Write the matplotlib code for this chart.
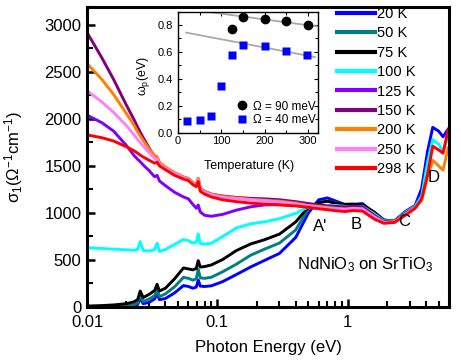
import matplotlib
matplotlib.use('Agg')
import matplotlib.pyplot as plt
from matplotlib.ticker import MultipleLocator, FixedLocator, FixedFormatter, LogLocator, NullFormatter

plt.rcParams['font.family'] = ['Liberation Sans', 'DejaVu Sans']
plt.rcParams['mathtext.fontset'] = 'custom'
plt.rcParams['mathtext.rm'] = 'Liberation Sans'
plt.rcParams['mathtext.it'] = 'Liberation Sans:italic'

# photon energy grid (eV)
energy = [0.01, 0.013, 0.016, 0.02, 0.023, 0.0245, 0.0256, 0.027, 0.03, 0.033,
          0.0345, 0.036, 0.04, 0.047, 0.055, 0.06, 0.065, 0.069, 0.0714, 0.074,
          0.08, 0.09, 0.11, 0.14, 0.18, 0.23, 0.3, 0.4, 0.5, 0.6,
          0.7, 0.8, 0.95, 1.1, 1.3, 1.6, 1.9, 2.3, 2.8, 3.3,
          3.7, 4.1, 4.5, 5.0, 5.4, 5.9]

# sigma_1 (1/(Ohm cm)) per temperature
s_20K = [2, 3, 5, 8, 14, 28, 92, 35, 50, 85,
         145, 78, 90, 150, 228, 218, 200, 212, 287, 222,
         218, 225, 270, 345, 425, 495, 570, 740, 1000, 1140,
         1160, 1130, 1090, 1090, 1100, 1000, 920, 920, 1020, 1080,
         1260, 1650, 1910, 1870, 1810, 1890]
s_50K = [3, 5, 8, 15, 25, 45, 128, 58, 85, 120,
         188, 110, 140, 215, 315, 305, 285, 300, 401, 310,
         305, 316, 375, 455, 550, 615, 680, 820, 1045, 1110,
         1125, 1110, 1085, 1080, 1085, 1005, 922, 915, 1010, 1070]
s_75K = [10, 15, 22, 35, 55, 80, 170, 100, 135, 175,
         241, 170, 200, 300, 415, 405, 395, 410, 493, 425,
         430, 447, 505, 600, 670, 715, 775, 905, 1065, 1110,
         1125, 1105, 1092, 1095, 1085, 1010, 925, 915, 1005, 1065]
s_100K = [631, 622, 615, 608, 604, 615, 695, 600, 596, 610,
          678, 590, 612, 665, 718, 705, 680, 690, 777, 672,
          670, 678, 750, 840, 885, 905, 940, 995, 1065, 1075,
          1080, 1080, 1070, 1065, 1070, 990, 915, 915, 1010, 1070,
          1180, 1530, 1780, 1730, 1655, 1810]
s_125K = [2040, 1960, 1870, 1720, 1610, 1570, 1545, 1510, 1450, 1385,
          1400, 1340, 1290, 1220, 1170, 1150, 1090, 1050, 1085, 1010,
          975, 965, 985, 1030, 1065, 1085, 1090, 1080, 1060, 1050,
          1045, 1045, 1045, 1060, 1060, 970, 905, 910, 1000, 1060]
s_150K = [2920, 2650, 2420, 2150, 1990, 1910, 1860, 1800, 1690, 1600,
          1575, 1530, 1480, 1420, 1380, 1365, 1320, 1300, 1360, 1260,
          1230, 1200, 1180, 1165, 1155, 1150, 1140, 1120, 1100, 1085,
          1075, 1070, 1065, 1070, 1065, 975, 905, 910, 1000, 1060]
s_200K = [2590, 2420, 2260, 2060, 1930, 1860, 1820, 1770, 1680, 1610,
          1600, 1540, 1490, 1430, 1385, 1365, 1320, 1300, 1370, 1260,
          1230, 1200, 1175, 1160, 1145, 1135, 1125, 1105, 1080, 1070,
          1060, 1050, 1040, 1040, 1030, 950, 895, 905, 990, 1060,
          1130, 1380, 1560, 1500, 1455, 1690]
s_250K = [2300, 2180, 2070, 1930, 1830, 1780, 1750, 1710, 1640, 1580,
          1570, 1520, 1475, 1420, 1375, 1355, 1310, 1290, 1350, 1250,
          1220, 1190, 1165, 1150, 1140, 1130, 1115, 1095, 1075, 1060,
          1050, 1045, 1040, 1050, 1045, 960, 900, 905, 990, 1055]
s_298K = [1830, 1800, 1765, 1705, 1660, 1635, 1615, 1595, 1560, 1530,
          1540, 1500, 1460, 1400, 1360, 1345, 1300, 1280, 1335, 1230,
          1200, 1170, 1140, 1120, 1105, 1095, 1085, 1075, 1060, 1045,
          1035, 1025, 1015, 1025, 1020, 935, 890, 900, 980, 1050,
          1150, 1400, 1710, 1670, 1635, 1880]

temp_labels = ['20 K', '50 K', '75 K', '100 K', '125 K', '150 K', '200 K', '250 K', '298 K']
curves = [s_20K, s_50K, s_75K, s_100K, s_125K, s_150K, s_200K, s_250K, s_298K]
colors = ['#0000ff', '#008080', '#000000', '#00ffff', '#8000ff', '#800080',
          '#ff8000', '#ff80ff', '#ff0000']

xtick_vals = [0.01, 0.1, 1]
xtick_labels = ['0.01', '0.1', '1']

# inset: plasma frequency vs temperature
T_90 = [125, 150, 200, 250, 300]
wp_90 = [0.765, 0.856, 0.844, 0.824, 0.795]
T_40 = [20, 50, 75, 100, 125, 150, 200, 250, 298]
wp_40 = [0.086, 0.098, 0.123, 0.345, 0.578, 0.652, 0.642, 0.605, 0.573]
fit_T_90 = [80, 320]
fit_90 = [0.889, 0.787]
fit_T_40 = [19, 316]
fit_40 = [0.741, 0.560]

fig = plt.figure(figsize=(4.61, 3.63), dpi=100)
ax = fig.add_axes([87/461, 56/363, 362/461, 300/363])

for lab, vals, col in zip(temp_labels, curves, colors):
    ax.plot(energy[:len(vals)], vals, color=col, lw=2.1, label=lab,
            solid_joinstyle='round')

ax.set_xscale('log')
ax.set_xlim(0.01, 6)
ax.set_ylim(0, 3190)
ax.xaxis.set_major_locator(FixedLocator(xtick_vals))
ax.xaxis.set_major_formatter(FixedFormatter(xtick_labels))
ax.xaxis.set_minor_locator(LogLocator(base=10, subs=range(2, 10)))
ax.xaxis.set_minor_formatter(NullFormatter())
ax.yaxis.set_major_locator(MultipleLocator(500))
ax.yaxis.set_minor_locator(MultipleLocator(250))
ax.tick_params(which='both', direction='in', top=False, right=False, labelsize=12)
ax.tick_params(which='major', length=6, width=1.8, pad=4)
ax.tick_params(which='minor', length=4, width=1.5)
ax.tick_params(axis='x', which='major', pad=6)
for sp in ax.spines.values():
    sp.set_linewidth(2.2)

ax.set_xlabel('Photon Energy (eV)', fontsize=12)
ax.set_ylabel('σ$_1$(Ω$^{-1}$cm$^{-1}$)', fontsize=12)
ax.xaxis.set_label_coords(0.5, -0.11)
ax.yaxis.set_label_coords(-0.171, 0.5)

ax.text(0.62, 860, "A'", fontsize=12, ha='center', va='center')
ax.text(1.17, 872, 'B', fontsize=12, ha='center', va='center')
ax.text(2.7, 904, 'C', fontsize=12, ha='center', va='center')
ax.text(4.58, 1372, 'D', fontsize=12, ha='center', va='center')
ax.text(0.41, 447, 'NdNiO$_3$ on SrTiO$_3$', fontsize=12, ha='left', va='center')

leg = ax.legend(loc='upper left', bbox_to_anchor=(337/461, 1 - 7/363),
                bbox_transform=fig.transFigure, frameon=False, fontsize=10.5,
                handlelength=2.6, handletextpad=0.15, labelspacing=0.37,
                borderpad=0, borderaxespad=0)
for ln in leg.get_lines():
    ln.set_linewidth(3)

# inset
axin = fig.add_axes([178/461, 230/363, 140/461, 121/363])
axin.plot(fit_T_90, fit_90, color='#aaaaaa', lw=1.3)
axin.plot(fit_T_40, fit_40, color='#aaaaaa', lw=1.3)
axin.plot(T_90, wp_90, 'o', color='black', ms=6, label='Ω = 90 meV')
axin.plot(T_40, wp_40, 's', color='#0000ff', ms=5.5, mec='none', label='Ω = 40 meV')
axin.set_xlim(0, 323)
axin.set_ylim(0, 0.893)
axin.xaxis.set_major_locator(MultipleLocator(100))
axin.xaxis.set_minor_locator(MultipleLocator(50))
axin.yaxis.set_major_locator(MultipleLocator(0.2))
axin.yaxis.set_minor_locator(MultipleLocator(0.1))
axin.tick_params(which='both', direction='in', top=True, right=True, labelsize=8)
axin.tick_params(which='major', length=3, width=0.8)
axin.tick_params(which='minor', length=2, width=0.8)
axin.tick_params(axis='x', pad=2)
for sp in axin.spines.values():
    sp.set_linewidth(1.0)
axin.set_xlabel('Temperature (K)', fontsize=9)
axin.set_ylabel('ω$_\\mathrm{p}$(eV)', fontsize=9)
axin.xaxis.set_label_coords(0.51, -0.223)
axin.yaxis.set_label_coords(-0.186, 0.47)
axin.legend(loc='lower right', bbox_to_anchor=(0.985, 0.06), frameon=False,
            fontsize=8.5, handlelength=1.0, handletextpad=0.4, labelspacing=0.1,
            borderpad=0, borderaxespad=0)

fig.savefig('out.png', dpi=100)
